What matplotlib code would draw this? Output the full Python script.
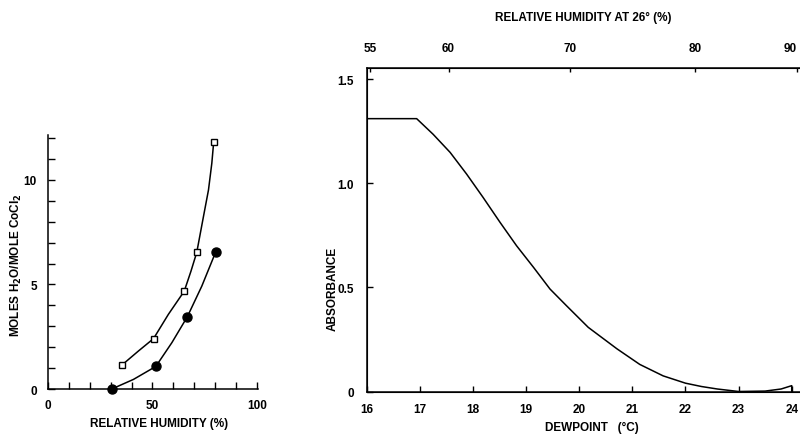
import numpy as np
import matplotlib.pyplot as plt

plt.rcParams['font.family'] = ['Liberation Sans', 'DejaVu Sans']
plt.rcParams['font.size'] = 8.5
plt.rcParams['font.weight'] = 'bold'
plt.rcParams['axes.labelweight'] = 'bold'

# left panel: moles water per mole CoCl2 vs relative humidity
sq_rh = [35.3, 50.5, 65.2, 71.2, 79.3]
sq_mol = [1.14, 2.41, 4.68, 6.54, 11.82]
sq_fit_rh = [35.3, 43.3, 50.5, 57.6, 65.2, 68.4, 71.2, 74.4, 76.8, 78.4, 79.3]
sq_fit_mol = [1.14, 1.82, 2.41, 3.57, 4.68, 5.63, 6.54, 8.25, 9.52, 10.8, 11.82]

dot_rh = [30.5, 51.6, 66.7, 80.2]
dot_mol = [0.0, 1.08, 3.46, 6.54]
dot_fit_rh = [30.5, 40.9, 51.6, 59.3, 66.7, 73.6, 80.2]
dot_fit_mol = [0.0, 0.46, 1.08, 2.22, 3.46, 4.92, 6.54]

# right panel: absorbance vs dewpoint
dew = [16.0, 16.94, 17.25, 17.57, 17.88, 18.19, 18.51, 18.82, 19.14, 19.45,
       19.76, 20.17, 20.71, 21.14, 21.58, 22.0, 22.3, 22.6, 23.0, 23.5, 23.8,
       24.0, 24.0]
absorb = [1.31, 1.31, 1.235, 1.148, 1.044, 0.932, 0.812, 0.70, 0.596, 0.492,
          0.412, 0.308, 0.205, 0.13, 0.075, 0.04, 0.024, 0.012, 0.0, 0.002, 0.012,
          0.028, 0.0]

# relative humidity at 26 deg on the top axis (labels and dewpoint where they sit)
rh_labels = ['55', '60', '70', '80', '90']
rh_at_dew = [16.06, 17.54, 19.83, 22.18, 24.1]

fig = plt.figure(figsize=(8, 4.35), dpi=100)

# ---- left
ax1 = fig.add_axes([0.06, 0.1034, 0.2625, 0.584])
ax1.plot(sq_fit_rh, sq_fit_mol, color='black', lw=1.1)
ax1.plot(dot_fit_rh, dot_fit_mol, color='black', lw=1.1)
ax1.plot(sq_rh, sq_mol, 's', ms=5, mfc='white', mec='black', mew=1.0, clip_on=False, zorder=3)
ax1.plot(dot_rh, dot_mol, 'o', ms=6.5, mfc='black', mec='black', clip_on=False, zorder=3)
ax1.set_xlim(0, 100.5)
ax1.set_ylim(0, 12.15)
ax1.set_xticks([0, 50, 100])
ax1.set_xticks(np.arange(0, 101, 10), minor=True)
ax1.set_yticks([0, 5, 10])
ax1.set_yticks(np.arange(0, 13, 1), minor=True)
ax1.tick_params(which='both', direction='in', length=5, width=1.0)
ax1.tick_params(axis='x', pad=7)
ax1.tick_params(axis='y', pad=8)
for s in ['top', 'right']:
    ax1.spines[s].set_visible(False)
for s in ['left', 'bottom']:
    ax1.spines[s].set_linewidth(1.1)
ax1.set_xlabel('RELATIVE HUMIDITY (%)')
ax1.xaxis.set_label_coords(0.53, -0.11)
ax1.set_ylabel('MOLES H$_2$O/MOLE CoCl$_2$')
ax1.yaxis.set_label_coords(-0.115, 0.49)

# ---- right
ax2 = fig.add_axes([0.4584, 0.0977, 0.5412, 0.7431])
ax2.plot(dew, absorb, color='black', lw=1.1)
ax2.set_xlim(16, 24.15)
ax2.set_ylim(0, 1.552)
ax2.set_xticks(np.arange(16, 25, 1))
ax2.set_yticks([0, 0.5, 1.0, 1.5])
ax2.set_yticklabels(['0', '0.5', '1.0', '1.5'])
ax2.tick_params(direction='in', length=4, width=1.0)
ax2.tick_params(axis='x', pad=8)
ax2.tick_params(axis='y', pad=9)
ax2.spines['right'].set_visible(False)
for s in ['left', 'bottom', 'top']:
    ax2.spines[s].set_linewidth(1.1)
ax2.set_xlabel('DEWPOINT   (\u00b0C)')
ax2.xaxis.set_label_coords(0.52, -0.09)
ax2.set_ylabel('ABSORBANCE')
ax2.yaxis.set_label_coords(-0.065, 0.32)

top = ax2.twiny()
top.set_xlim(ax2.get_xlim())
top.set_xticks(rh_at_dew)
top.set_xticklabels(rh_labels)
top.get_xticklabels()[-1].set_ha('right')
top.tick_params(direction='in', length=3, width=1.0, pad=10)
top.spines['right'].set_visible(False)
top.set_xlabel('RELATIVE HUMIDITY AT 26\u00b0 (%)', labelpad=16)

fig.savefig('out.png', dpi=100)
